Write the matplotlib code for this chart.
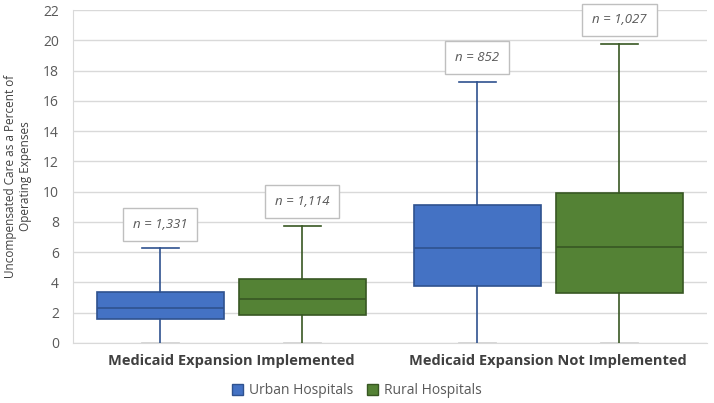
import matplotlib
matplotlib.use("Agg")
import matplotlib.pyplot as plt
from matplotlib.patches import Patch

plt.rcParams['font.family'] = ['Open Sans', 'DejaVu Sans']

# 데이터
groups = ["Medicaid Expansion Implemented", "Medicaid Expansion Not Implemented"]
series = ["Urban Hospitals", "Rural Hospitals"]
whislo = [[0, 0], [0, 0]]          # [group][series]
q1 = [[1.57, 1.85], [3.76, 3.32]]
med = [[2.29, 2.91], [6.25, 6.32]]
q3 = [[3.37, 4.21], [9.11, 9.93]]
whishi = [[6.25, 7.73], [17.24, 19.75]]
counts = [["n = 1,331", "n = 1,114"], ["n = 852", "n = 1,027"]]

fills = ["#4472C4", "#548235"]
edges = ["#2F528F", "#385723"]
offset = 0.224
width = 0.40

fig = plt.figure(figsize=(7.14, 4.03), dpi=100)
ax = fig.add_axes([0.102, 0.149, 0.888, 0.826])

for s in range(2):
    stats = []
    pos = []
    for g in range(2):
        stats.append({"whislo": whislo[g][s], "q1": q1[g][s], "med": med[g][s],
                      "q3": q3[g][s], "whishi": whishi[g][s], "fliers": []})
        pos.append(g + (-offset if s == 0 else offset))
    bp = ax.bxp(stats, positions=pos, widths=width, patch_artist=True,
                showfliers=False, capwidths=0.115,
                boxprops=dict(facecolor=fills[s], edgecolor=edges[s], linewidth=1.2),
                medianprops=dict(color=edges[s], linewidth=1.2),
                whiskerprops=dict(color=edges[s], linewidth=1.2),
                capprops=dict(color=edges[s], linewidth=1.2), zorder=3)
    # 아래쪽 캡은 연한 회색
    for i, cap in enumerate(bp["caps"]):
        if i % 2 == 0:
            cap.set_color("#D0D0D0")
            cap.set_zorder(2)
    for g in range(2):
        ax.text(pos[g], whishi[g][s] + 1.6, counts[g][s], ha="center", va="center",
                fontsize=9.5, style="italic", color="#595959",
                bbox=dict(boxstyle="square,pad=0.75", facecolor="white",
                          edgecolor="#BFBFBF", linewidth=1), zorder=4)

ax.set_xlim(-0.5, 1.5)
ax.set_ylim(0, 22)
ax.set_yticks(range(0, 23, 2))
ax.set_xticks([0, 1])
ax.set_xticklabels(groups, fontsize=10.5, fontweight="bold", color="#404040")
ax.tick_params(axis="y", labelsize=10, colors="#595959", length=0, pad=10)
ax.tick_params(axis="x", length=0, pad=8)
ax.grid(axis="y", color="#D9D9D9", linewidth=1, zorder=0)
ax.set_axisbelow(True)
for side in ["top", "right"]:
    ax.spines[side].set_visible(False)
for side in ["left", "bottom"]:
    ax.spines[side].set_color("#D9D9D9")
ax.set_ylabel("Uncompensated Care as a Percent of\nOperating Expenses",
              fontsize=8.5, color="#404040", labelpad=8)

handles = [Patch(facecolor=fills[i], edgecolor=edges[i], label=series[i]) for i in range(2)]
fig.legend(handles=handles, loc="center", bbox_to_anchor=(0.5, 0.03), ncol=2,
           frameon=False, fontsize=10, labelcolor="#595959",
           handlelength=0.8, handleheight=0.8, handletextpad=0.4, columnspacing=1.0)

fig.savefig("out.png", dpi=100)
